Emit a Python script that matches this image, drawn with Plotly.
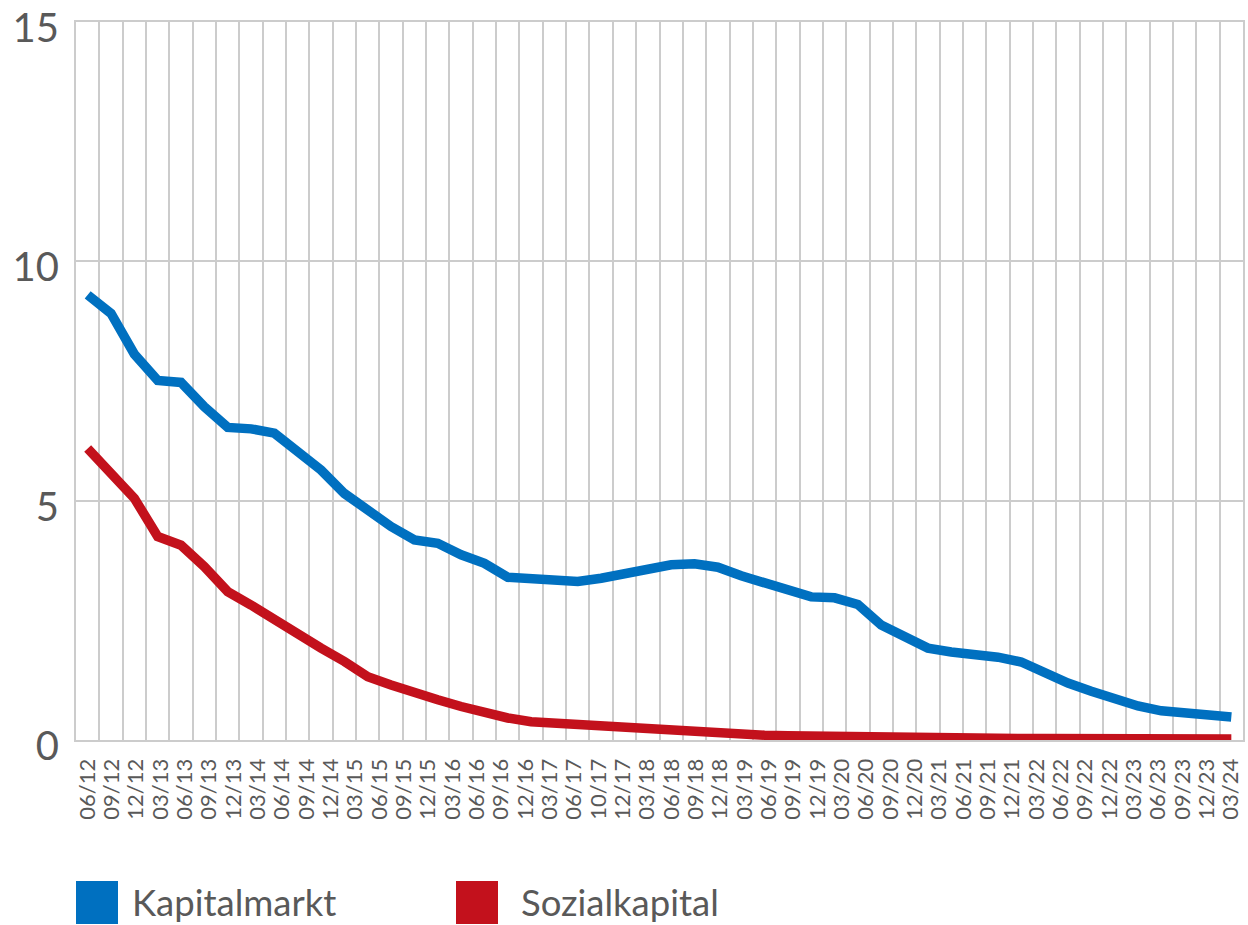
import plotly.graph_objects as go

# ── Data ─────────────────────────────────────────────────────────────────────
kapitalmarkt = [
    9.30, 8.91, 8.06, 7.51, 7.47, 6.96, 6.53, 6.50, 6.41, 6.02,
    5.64, 5.15, 4.80, 4.46, 4.18, 4.11, 3.87, 3.69, 3.40, 3.36,
    3.31, 3.31, 3.38, 3.47, 3.59, 3.66, 3.68, 3.61, 3.43, 3.28,
    3.09, 2.99, 2.97, 2.83, 2.40, 2.15, 1.92, 1.84, 1.80, 1.73,
    1.63, 1.40, 1.19, 1.02, 0.86, 0.71, 0.61, 0.56, 0.52, 0.48,
]
sozialkapital = [
    6.09, 5.54, 5.05, 4.25, 4.07, 3.62, 3.10, 2.82, 2.51, 2.23,
    1.92, 1.64, 1.32, 1.15, 0.98, 0.84, 0.70, 0.56, 0.46, 0.38,
    0.35, 0.31, 0.28, 0.26, 0.24, 0.21, 0.17, 0.15, 0.13, 0.10,
    0.09, 0.08, 0.07, 0.06, 0.06, 0.05, 0.05, 0.04, 0.04, 0.04,
    0.03, 0.03, 0.03, 0.02, 0.02, 0.02, 0.02, 0.02, 0.02, 0.02,
]
tick_labels = [
    "06/12", "09/12", "12/12",
    "03/13", "06/13", "09/13", "12/13",
    "03/14", "06/14", "09/14", "12/14",
    "03/15", "06/15", "09/15", "12/15",
    "03/16", "06/16", "09/16", "12/16",
    "03/17", "06/17", "10/17", "12/17",
    "03/18", "06/18", "09/18", "12/18",
    "03/19", "06/19", "09/19", "12/19",
    "03/20", "06/20", "09/20", "12/20",
    "03/21", "06/21", "09/21", "12/21",
    "03/22", "06/22", "09/22", "12/22",
    "03/23", "06/23", "09/23", "12/23",
    "03/24",
]
y_ticks = [0, 5, 10, 15]

# ── Styling ──────────────────────────────────────────────────────────────────
BLUE = "#0070C0"
RED = "#C3111C"
GRID = "#CCCCCC"
TEXT = "#595959"
FONT = "Lato, sans-serif"

n = len(kapitalmarkt)
x = list(range(n))
# labels spread evenly across the point span
label_pos = [k * (n - 1) / (len(tick_labels) - 1) for k in range(len(tick_labels))]

fig = go.Figure()
fig.add_trace(go.Scatter(x=x, y=kapitalmarkt, name="Kapitalmarkt", mode="lines",
                         line=dict(color=BLUE, width=9.5)))
fig.add_trace(go.Scatter(x=x, y=sozialkapital, name="Sozialkapital", mode="lines",
                         line=dict(color=RED, width=9.5)))

W, H = 1248, 925
L, R, T, B = 76, 5, 22, 185
fig.update_layout(
    width=W, height=H,
    margin=dict(l=L, r=R, t=T, b=B),
    paper_bgcolor="white", plot_bgcolor="white",
    font=dict(family=FONT, color=TEXT),
    showlegend=False,
)
fig.update_xaxes(
    range=[-0.5, n - 0.5], automargin=False,
    tickmode="array", tickvals=label_pos, ticktext=tick_labels,
    tickangle=-90, tickfont=dict(size=22, color=TEXT),
    ticks="", ticklabelstandoff=8,
    showgrid=False, zeroline=False,
    showline=True, mirror=True, linecolor=GRID, linewidth=2,
    minor=dict(tickmode="linear", tick0=-0.5, dtick=1, showgrid=True,
               gridcolor=GRID, gridwidth=2, ticks=""),
)
fig.update_yaxes(
    range=[0, 15], automargin=False, tickvals=y_ticks,
    tickfont=dict(size=40, color=TEXT), ticklabelstandoff=7,
    ticklabelshift=6, ticklabeloverflow="allow",
    showgrid=True, gridcolor=GRID, gridwidth=2, zeroline=False,
    showline=True, mirror=True, linecolor=GRID, linewidth=2,
)

# legend drawn as squares + text below the axis labels
plot_w, plot_h = W - L - R, H - T - B
def px_x(p):
    return (p - L) / plot_w
def px_y(p):
    return (H - B - p) / plot_h

legend_items = [(76, 130, BLUE, "Kapitalmarkt"), (456, 519, RED, "Sozialkapital")]
for sq_x, txt_x, color, label in legend_items:
    fig.add_shape(type="rect", xref="paper", yref="paper",
                  x0=px_x(sq_x), x1=px_x(sq_x + 42), y0=px_y(924), y1=px_y(881),
                  fillcolor=color, line=dict(width=0))
    fig.add_annotation(xref="paper", yref="paper", x=px_x(txt_x), y=px_y(902),
                       text=label, showarrow=False, xanchor="left", yanchor="middle",
                       font=dict(size=36.5, color=TEXT, family=FONT))

fig.write_html(
    "out.html",
    config={"displayModeBar": False},
    post_script="document.body.style.margin='0';document.body.style.overflow='hidden';",
)
